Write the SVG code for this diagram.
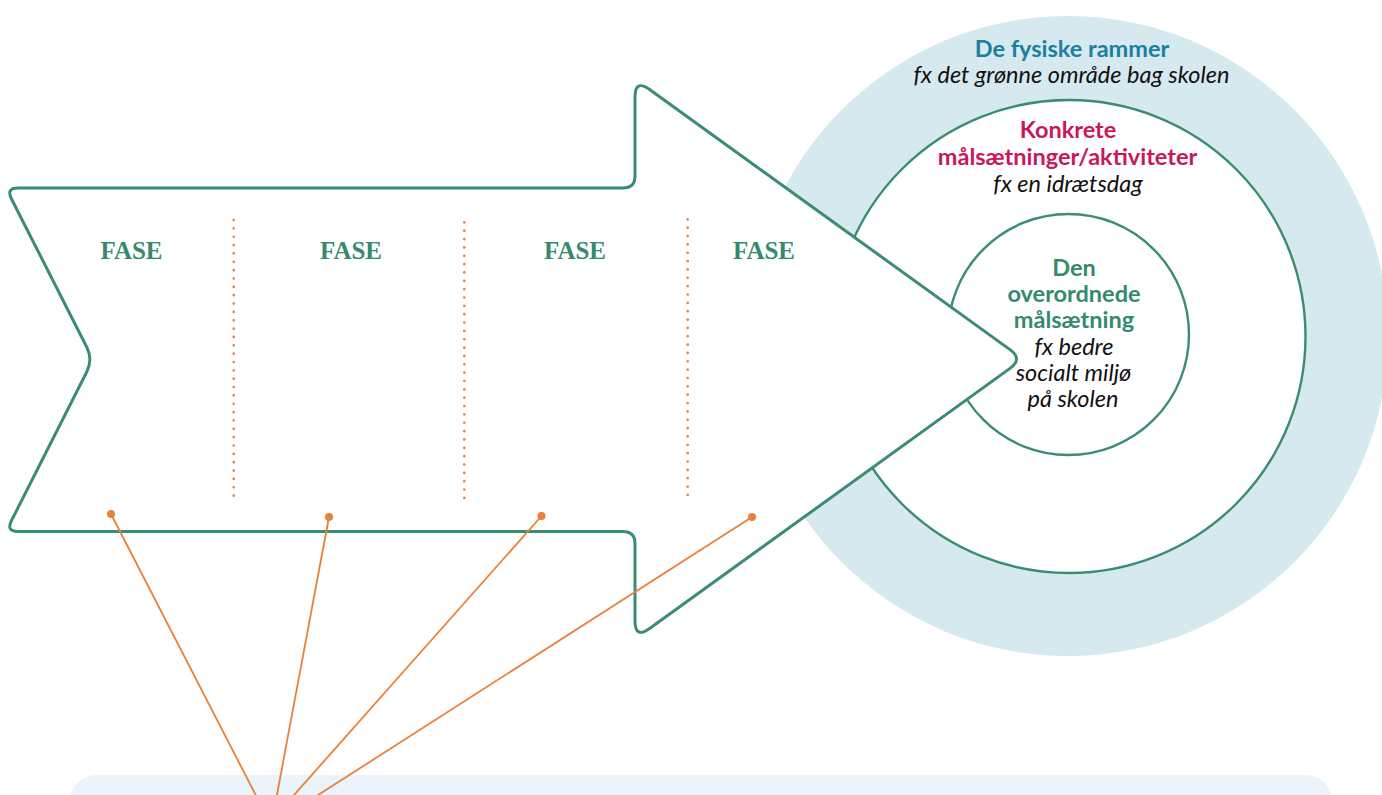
<svg xmlns="http://www.w3.org/2000/svg" width="1382" height="795" viewBox="0 0 1382 795">
<style>
.ring{fill:#ffffff;stroke:#3a8c72;stroke-width:2.4}
.arrow{fill:#ffffff;stroke:#3a8c72;stroke-width:3}
.dots{stroke:#e8813a;stroke-width:2.6;stroke-linecap:round;stroke-dasharray:0.1 8.25;fill:none}
.fase{font-family:"Liberation Serif",serif;font-weight:bold;font-size:26px;fill:#358a6e;text-anchor:middle}
.t{font-family:Lato,"Open Sans",sans-serif;font-size:23.5px;text-anchor:middle}
.b{font-weight:bold}
.i{font-style:italic;fill:#111111}
.conn{stroke:#e8813a;stroke-width:1.8;fill:none}
.dot{fill:#e8813a}
</style>
<rect x="0" y="0" width="1382" height="795" fill="#ffffff"/>
<g id="outer-ring">
<circle cx="1068" cy="336" r="320" fill="#d6e9ef"/>
<text class="t b" x="1072" y="57" fill="#1b7fa0">De fysiske rammer</text>
<text class="t i" x="1071.5" y="83">fx det grønne område bag skolen</text>
</g>
<g id="middle-ring">
<circle class="ring" cx="1069" cy="336.5" r="236.5"/>
<text class="t b" x="1068" y="138" fill="#c8185a">Konkrete</text>
<text class="t b" x="1067.5" y="165" fill="#c8185a">målsætninger/aktiviteter</text>
<text class="t i" x="1068" y="191.5">fx en idrætsdag</text>
</g>
<g id="inner-ring">
<circle class="ring" cx="1068.5" cy="334.5" r="120.5"/>
<text class="t b" x="1074" y="276" fill="#358a6e">Den</text>
<text class="t b" x="1074" y="302" fill="#358a6e">overordnede</text>
<text class="t b" x="1074" y="328" fill="#358a6e">målsætning</text>
<text class="t i" x="1074" y="355">fx bedre</text>
<text class="t i" x="1073.5" y="381">socialt miljø</text>
<text class="t i" x="1073" y="407">på skolen</text>
</g>
<g id="arrow">
<path class="arrow" d="M 18,188 L 623,188 Q 635,188 635,176 L 635,97 Q 635,79 649.6,89.5 L 1010,349.6 Q 1023,359 1010,368.4 L 649.6,628.5 Q 635,639 635,621 L 635,543.5 Q 635,531.5 623,531.5 L 18,531.5 Q 6,531.5 11.4,520.8 L 86.7,372 Q 93,359.5 86.7,347 L 11.4,198.7 Q 6,188 18,188 Z"/>
<line class="dots" x1="233.7" y1="220" x2="233.7" y2="500"/>
<line class="dots" x1="464.3" y1="222.3" x2="464.3" y2="502.3"/>
<line class="dots" x1="687.7" y1="219.3" x2="687.7" y2="499.3"/>
</g>
<g id="phase-1"><text class="fase" x="131.5" y="259.3" textLength="62" lengthAdjust="spacingAndGlyphs">FASE</text></g>
<g id="phase-2"><text class="fase" x="351" y="259.3" textLength="62" lengthAdjust="spacingAndGlyphs">FASE</text></g>
<g id="phase-3"><text class="fase" x="575" y="259.3" textLength="62" lengthAdjust="spacingAndGlyphs">FASE</text></g>
<g id="phase-4"><text class="fase" x="764" y="259.3" textLength="62" lengthAdjust="spacingAndGlyphs">FASE</text></g>
<g id="bottom-panel">
<rect x="70" y="775" width="1262" height="80" rx="26" ry="26" fill="#ebf4fa"/>
</g>
<g id="connectors">
<line class="conn" x1="111" y1="514" x2="258.3" y2="800"/>
<line class="conn" x1="329" y1="517" x2="276" y2="800"/>
<line class="conn" x1="541.5" y1="516" x2="289.6" y2="800"/>
<line class="conn" x1="752" y1="517" x2="310.3" y2="800"/>
<circle class="dot" cx="111" cy="514" r="4"/>
<circle class="dot" cx="329" cy="517" r="4"/>
<circle class="dot" cx="541.5" cy="516" r="4"/>
<circle class="dot" cx="752" cy="517" r="4"/>
</g>
</svg>
